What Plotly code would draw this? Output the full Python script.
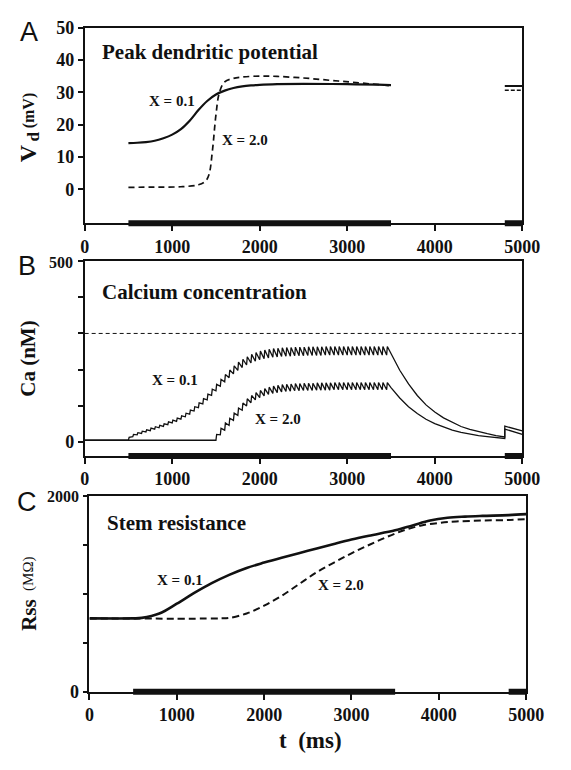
import plotly.graph_objects as go

W, H = 571, 770

# ---------------- data ----------------
# Panel A: peak dendritic potential (mV)
vd01_t = [500, 600, 700, 800, 900, 1000, 1100, 1200, 1300, 1400, 1500, 1600, 1700,
          1800, 1900, 2000, 2200, 2500, 3000, 3500]
vd01_v = [14.3, 14.4, 14.6, 15.0, 15.8, 16.9, 18.6, 21.2, 24.5, 27.3, 29.3, 30.5, 31.3,
          31.8, 32.1, 32.3, 32.5, 32.6, 32.5, 32.2]
vd20_t = [500, 800, 1100, 1300, 1380, 1420, 1460, 1500, 1540, 1600, 1700, 1800, 2000,
          2200, 2500, 2800, 3100, 3500]
vd20_v = [0.6, 0.7, 0.8, 1.4, 2.5, 4.5, 12.0, 23.0, 30.0, 33.2, 34.3, 34.7, 35.0,
          34.9, 34.4, 33.7, 33.0, 32.0]
vd_tail_t = [4800, 5000]
vd01_tail = [31.9, 31.9]
vd20_tail = [30.6, 30.6]

# Panel B: calcium (nM), one tooth per stimulus pulse (20 Hz)
ca_rest = 4
ca_dashed_level = 300
spike01_t = list(range(500, 3500, 50))
ca01_mid = [8, 17, 22, 26, 30, 34, 38, 42, 46, 51,
            56, 61, 67, 74, 82, 91, 101, 112, 124, 137,
            150, 163, 176, 188, 199, 209, 217, 224, 230, 235,
            239, 242, 244, 246, 247, 248, 249, 249, 250, 250,
            250, 251, 251, 251, 251, 252, 252, 252, 252, 252,
            252, 252, 252, 252, 252, 252, 252, 252, 252, 252]
ca01_amp = [8, 6, 6, 6, 6, 7, 7, 7, 7, 8,
            8, 9, 9, 10, 11, 12, 13, 15, 16, 17,
            18, 19, 20, 21, 22, 23, 23, 23, 24, 24,
            24, 24, 24, 24, 24, 24, 24, 24, 24, 24,
            24, 24, 24, 24, 24, 24, 24, 24, 24, 24,
            24, 24, 24, 24, 24, 24, 24, 24, 24, 24]
spike20_t = list(range(1500, 3500, 50))
ca20_mid = [12, 28, 42, 55, 69, 83, 97, 109, 118, 126,
            132, 137, 141, 144, 146, 148, 149, 150, 151, 151,
            152, 152, 152, 153, 153, 153, 153, 154, 154, 154,
            154, 154, 154, 154, 154, 154, 154, 154, 154, 154]
ca20_amp = [16, 18, 20, 20, 20, 20, 20, 20, 20, 20,
            20, 20, 20, 20, 20, 20, 20, 20, 20, 20,
            20, 20, 20, 20, 20, 20, 20, 20, 20, 20,
            20, 20, 20, 20, 20, 20, 20, 20, 20, 20]
decay_t = [3500, 3600, 3700, 3800, 3900, 4000, 4100, 4200, 4300, 4400, 4500, 4600,
           4700, 4800, 4800, 4900, 5000]
ca01_decay = [245, 198, 160, 128, 102, 82, 66, 53, 42, 34, 27, 22, 17, 13, 43, 36, 30]
ca20_decay = [150, 121, 97, 78, 62, 50, 40, 32, 26, 21, 17, 14, 11, 9, 35, 27, 20]

# Panel C: stem resistance (MOhm)
rss01_t = [0, 500, 600, 800, 1000, 1200, 1400, 1600, 1800, 2000, 2200, 2500, 2800,
           3000, 3200, 3500, 3700, 3900, 4100, 4300, 4500, 4800, 5000]
rss01_v = [750, 750, 755, 800, 900, 1010, 1110, 1195, 1265, 1320, 1370, 1440, 1510,
           1555, 1595, 1650, 1700, 1750, 1778, 1790, 1797, 1805, 1815]
rss20_t = [0, 1500, 1600, 1800, 2000, 2200, 2400, 2600, 2800, 3000, 3200, 3400, 3600,
           3800, 4000, 4200, 4500, 4800, 5000]
rss20_v = [750, 750, 755, 800, 880, 980, 1100, 1220, 1320, 1415, 1500, 1580, 1650,
           1700, 1725, 1740, 1750, 1755, 1765]

# Stimulus bars
stim_t = [500, 3500, None, 4800, 5000]
stim_y = [0, 0, None, 0, 0]

x_ticks = [0, 1000, 2000, 3000, 4000, 5000]
vd_ticks = [0, 10, 20, 30, 40, 50]
ca_top, ca_step = 500, 100
rss_top, rss_step = 2000, 500

# ---------------- helpers ----------------
def px(x):
    return x / W

def py(y):
    return 1 - y / H

SERIF = "Liberation Serif, Times New Roman, Times, DejaVu Serif, serif"
SANS = "Liberation Sans, Arial, Helvetica, DejaVu Sans, sans-serif"
BLACK = "#111111"


def sawtooth(spikes, mid, amp, rest, t0, tail_t, tail_v):
    xs = [0, t0]
    ys = [rest, rest]
    for t, m, a in zip(spikes, mid, amp):
        xs += [t, t + 8]
        ys += [m - a / 2, m + a / 2]
    xs += tail_t
    ys += tail_v
    return xs, ys


fig = go.Figure()

# Panel A
fig.add_trace(go.Scatter(x=vd01_t, y=vd01_v, mode="lines", xaxis="x", yaxis="y",
                         line=dict(color=BLACK, width=2.2, shape="spline")))
fig.add_trace(go.Scatter(x=vd20_t, y=vd20_v, mode="lines", xaxis="x", yaxis="y",
                         line=dict(color=BLACK, width=1.7, dash="6px,4px", shape="spline")))
fig.add_trace(go.Scatter(x=vd_tail_t, y=vd01_tail, mode="lines", xaxis="x", yaxis="y",
                         line=dict(color=BLACK, width=2)))
fig.add_trace(go.Scatter(x=vd_tail_t, y=vd20_tail, mode="lines", xaxis="x", yaxis="y",
                         line=dict(color=BLACK, width=1.5, dash="4px,2px")))

# Panel B
fig.add_trace(go.Scatter(x=[0, 5000], y=[ca_dashed_level, ca_dashed_level], mode="lines",
                         xaxis="x2", yaxis="y2",
                         line=dict(color=BLACK, width=1, dash="4px,3px")))
x01, y01 = sawtooth(spike01_t, ca01_mid, ca01_amp, ca_rest, 500, decay_t, ca01_decay)
x20, y20 = sawtooth(spike20_t, ca20_mid, ca20_amp, ca_rest, 1500, decay_t, ca20_decay)
fig.add_trace(go.Scatter(x=x01, y=y01, mode="lines", xaxis="x2", yaxis="y2",
                         line=dict(color=BLACK, width=1.3)))
fig.add_trace(go.Scatter(x=x20, y=y20, mode="lines", xaxis="x2", yaxis="y2",
                         line=dict(color=BLACK, width=1.3)))

# Panel C
fig.add_trace(go.Scatter(x=rss01_t, y=rss01_v, mode="lines", xaxis="x3", yaxis="y3",
                         line=dict(color=BLACK, width=2.6, shape="spline")))
fig.add_trace(go.Scatter(x=rss20_t, y=rss20_v, mode="lines", xaxis="x3", yaxis="y3",
                         line=dict(color=BLACK, width=2, dash="7px,4px", shape="spline")))

# Stimulus bars (thin strip subplots centred on each x axis line)
for n in (4, 5, 6):
    fig.add_trace(go.Scatter(x=stim_t, y=stim_y, mode="lines", xaxis=f"x{n}", yaxis=f"y{n}",
                             line=dict(color=BLACK, width=6)))

# ---------------- layout ----------------
panels = {
    # name: (left, right, top, bottom) in pixels
    "A": (83, 539, 18, 219),
    "B": (83, 539, 258, 458),
    "C": (88, 543, 499, 700),
}

tickfont = dict(family=SERIF, size=18, color=BLACK)


def xaxis_def(p, anchor):
    l, r, t, b = panels[p]
    return dict(domain=[px(l), px(r)], range=[0, 5000], anchor=anchor,
                showline=True, linecolor=BLACK, linewidth=1.5, mirror=True,
                ticks="outside", ticklen=6, tickwidth=1.5, tickcolor=BLACK,
                tickvals=x_ticks, ticktext=[f"<b>{v}</b>" for v in x_ticks],
                tickfont=tickfont, showgrid=False, zeroline=False)


def yaxis_def(p, anchor, rng, vals, minor=None):
    l, r, t, b = panels[p]
    d = dict(domain=[py(b), py(t)], range=rng, anchor=anchor,
             showline=True, linecolor=BLACK, linewidth=1.5, mirror=True,
             ticks="outside", ticklen=5, tickwidth=1.5, tickcolor=BLACK,
             tickvals=vals, ticktext=[f"<b>{v}</b>" for v in vals],
             tickfont=tickfont, showgrid=False, zeroline=False)
    if minor:
        d["minor"] = dict(tick0=0, dtick=minor, ticks="outside", ticklen=5,
                          tickwidth=1.5, tickcolor=BLACK, showgrid=False)
    return d


layout = dict(
    width=W, height=H, autosize=False,
    margin=dict(l=0, r=0, t=0, b=0),
    paper_bgcolor="white", plot_bgcolor="rgba(0,0,0,0)",
    showlegend=False,
    xaxis=xaxis_def("A", "y"),
    yaxis=yaxis_def("A", "x", [-10.5, 50], vd_ticks),
    xaxis2=xaxis_def("B", "y2"),
    yaxis2=yaxis_def("B", "x2", [-40, ca_top], [0], minor=ca_step),
    xaxis3=xaxis_def("C", "y3"),
    yaxis3=yaxis_def("C", "x3", [0, rss_top], [0], minor=rss_step),
)

for n, p in zip((4, 5, 6), ("A", "B", "C")):
    l, r, t, b = panels[p]
    layout[f"xaxis{n}"] = dict(domain=[px(l), px(r)], range=[0, 5000], anchor=f"y{n}",
                               visible=False, fixedrange=True)
    layout[f"yaxis{n}"] = dict(domain=[py(b + 5), py(b - 5)], range=[-1, 1], anchor=f"x{n}",
                               visible=False, fixedrange=True)

fig.update_layout(**layout)


def ann(x, y, text, size, family=SERIF, anchor="center", angle=0, bold=True):
    fig.add_annotation(x=px(x), y=py(y), xref="paper", yref="paper",
                       text=f"<b>{text}</b>" if bold else text,
                       showarrow=False, xanchor=anchor, yanchor="middle", textangle=angle,
                       font=dict(family=family, size=size, color=BLACK))


# smaller top tick labels of panels B and C
ann(73, 259, str(ca_top), 16, anchor="right")
ann(79, 499, str(rss_top), 16, anchor="right")

# panel letters
ann(25, 23, "A", 27, family=SANS, bold=False)
ann(23, 263, "B", 27, family=SANS, bold=False)
ann(23, 505, "C", 27, family=SANS, bold=False)

# panel titles
ann(99, 43, "Peak dendritic potential", 21, anchor="left")
ann(99, 290, "Calcium concentration", 21, anchor="left")
ann(104, 527, "Stem resistance", 21, anchor="left")

# curve labels
ann(174, 93, "X = 0.1", 15)
ann(250, 133, "X = 2.0", 15)
ann(177, 380, "X = 0.1", 15)
ann(284, 420, "X = 2.0", 15)
ann(182, 585, "X = 0.1", 15)
ann(350, 590, "X = 2.0", 15)

# axis titles (each piece its own text)
ann(24, 147, "V", 24, angle=-90)
ann(30, 130, "d", 17, angle=-90)
ann(25, 103, "(mV)", 16, angle=-90)
ann(24, 358, "Ca (nM)", 21, angle=-90)
ann(25, 621, "Rss", 21, angle=-90)
ann(25, 579, "(MΩ)", 15, angle=-90, bold=False)
ann(318, 750, "t  (ms)", 23)

fig.write_html("out.html")
